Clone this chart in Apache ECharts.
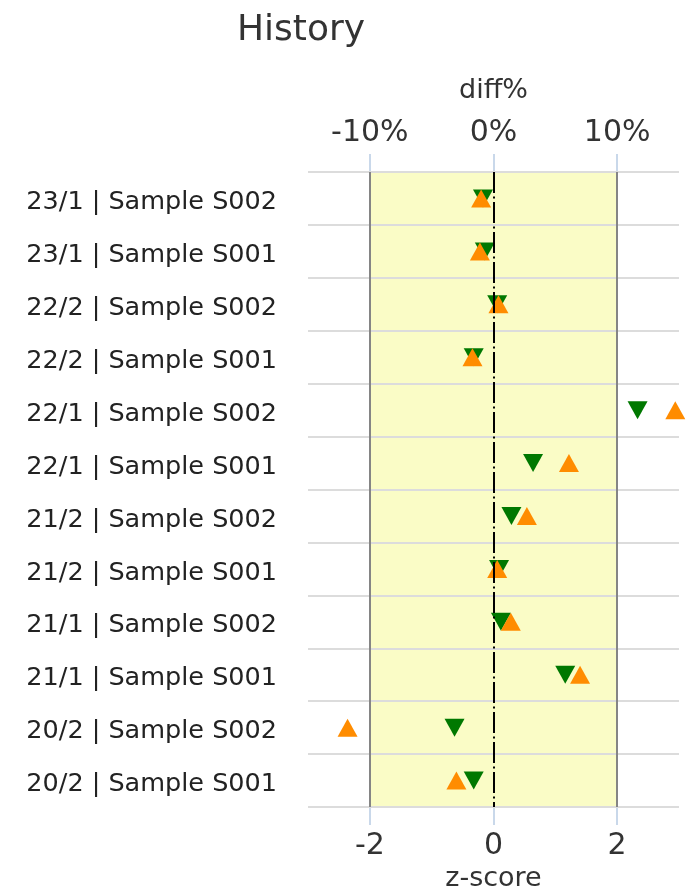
<!DOCTYPE html>
<html>
<head>
<meta charset="utf-8">
<script src="https://cdn.jsdelivr.net/npm/echarts@6/dist/echarts.min.js"></script>
<style>
html,body{margin:0;padding:0;background:#fff;}
#chart{width:690px;height:890px;}
</style>
</head>
<body>
<div id="chart"></div>
<script>
// categories listed top to bottom
const categories = [
  "23/1 | Sample S002", "23/1 | Sample S001",
  "22/2 | Sample S002", "22/2 | Sample S001",
  "22/1 | Sample S002", "22/1 | Sample S001",
  "21/2 | Sample S002", "21/2 | Sample S001",
  "21/1 | Sample S002", "21/1 | Sample S001",
  "20/2 | Sample S002", "20/2 | Sample S001"
];
const zScores = [-0.17, -0.14, 0.06, -0.32, 2.33, 0.64, 0.29, 0.09, 0.12, 1.16, -0.63, -0.32];
const diffPct = [-1.0, -1.1, 0.4, -1.7, 14.7, 6.1, 2.7, 0.3, 1.4, 7.0, -11.8, -3.0];
const zTicks = [-2, 0, 2];
const diffTicks = [-10, 0, 10];

const FONT = "DejaVu Sans";
const chart = echarts.init(document.getElementById('chart'));
chart.setOption({
  animation: false,
  backgroundColor: '#fff',
  title: {
    text: 'History',
    left: 232, top: 8,
    textStyle: {fontFamily: FONT, fontSize: 36, fontWeight: 'normal', color: '#333'}
  },
  grid: {left: 308, right: 11, top: 172, bottom: 83, containLabel: false, outerBoundsMode: 'none'},
  xAxis: [
    {
      type: 'value', position: 'bottom', min: -3, max: 3,
      name: 'z-score', nameLocation: 'middle', nameGap: 43,
      nameTextStyle: {fontFamily: FONT, fontSize: 27, color: '#333'},
      axisLine: {show: false},
      axisTick: {show: true, length: 18, lineStyle: {color: '#b8cce4', width: 1.5}, customValues: zTicks},
      axisLabel: {fontFamily: FONT, fontSize: 30, color: '#333', margin: 24, customValues: zTicks},
      splitLine: {show: false}
    },
    {
      type: 'value', position: 'top', min: -15, max: 15,
      name: 'diff%', nameLocation: 'middle', nameGap: 68,
      nameTextStyle: {fontFamily: FONT, fontSize: 27, color: '#333'},
      axisLine: {show: false},
      axisTick: {show: true, length: 18, lineStyle: {color: '#b8cce4', width: 1.5}, customValues: diffTicks},
      axisLabel: {fontFamily: FONT, fontSize: 30, color: '#333', margin: 24, formatter: '{value}%', customValues: diffTicks},
      splitLine: {show: false}
    }
  ],
  yAxis: {
    type: 'category', data: categories, inverse: true, z: 3,
    axisLine: {show: false},
    axisTick: {show: false},
    axisLabel: {
      fontFamily: FONT, fontSize: 25.5, color: '#222', margin: 31,
      formatter: (v) => '{a|' + v + '}',
      rich: {a: {fontFamily: FONT, fontSize: 25.5, color: '#222', padding: [8, 0, 0, 0]}}
    },
    splitLine: {show: true, lineStyle: {color: '#dcdcdc', width: 2}}
  },
  series: [
    {
      name: 'z-score', type: 'scatter', xAxisIndex: 0, z: 2,
      data: zScores.map((v, i) => [v, categories[i]]),
      symbol: 'triangle', symbolRotate: 180, symbolSize: [20, 18],
      itemStyle: {color: '#007800', opacity: 1},
      markArea: {
        silent: true,
        itemStyle: {color: '#fafcc6'},
        data: [[{xAxis: -2}, {xAxis: 2}]]
      },
      markLine: {
        silent: true, symbol: ['none', 'none'], label: {show: false},
        data: [
          {xAxis: -2, lineStyle: {color: '#858585', width: 2, type: 'solid'}},
          {xAxis: 2, lineStyle: {color: '#858585', width: 2, type: 'solid'}},
          {xAxis: 0, lineStyle: {color: '#000', width: 2, type: [21, 3.5, 2, 3.5]}}
        ]
      }
    },
    {
      name: 'diff%', type: 'scatter', xAxisIndex: 1, z: 4,
      data: diffPct.map((v, i) => [v, categories[i]]),
      symbol: 'triangle', symbolSize: [20, 18],
      itemStyle: {color: '#ff8c00', opacity: 1}
    }
  ]
});
</script>
</body>
</html>
